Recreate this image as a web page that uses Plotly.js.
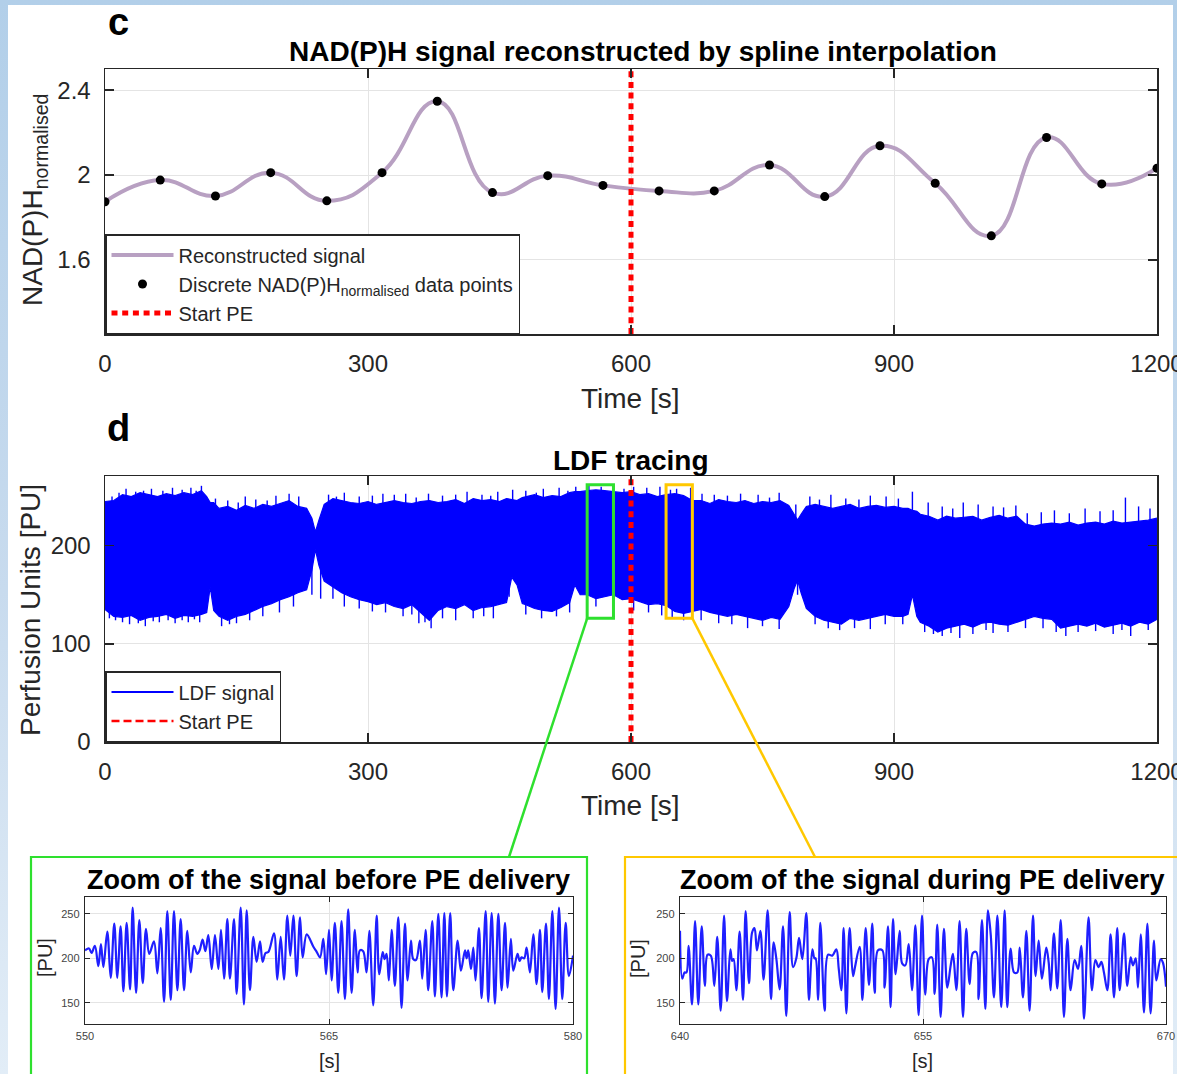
<!DOCTYPE html>
<html>
<head>
<meta charset="utf-8">
<script src="https://cdn.plot.ly/plotly-3.0.1.min.js"></script>
<style>
  html, body { margin: 0; padding: 0; }
  body { background: linear-gradient(to bottom, #b2cfe9 0%, #c8dbee 55%, #e2edf7 100%); }
  #fig { width: 1177px; height: 1074px; }
</style>
</head>
<body>
<div id="fig"></div>
<script>
// ---------------- data ----------------
// NAD(P)H normalised samples (one frame every ~63 s)
const nadT = [0, 63, 126, 189, 253, 316, 379, 442, 505, 568, 632, 695, 758, 821, 884, 947, 1011, 1074, 1137, 1200];
const nadV = [1.874, 1.976, 1.901, 2.011, 1.878, 2.011, 2.348, 1.917, 1.997, 1.951,
              1.925, 1.925, 2.047, 1.898, 2.138, 1.961, 1.713, 2.177, 1.958, 2.032];

const peStart = 600;             // start of PE delivery [s]

// LDF tracing: upper / lower envelope of the perfusion signal
const ldfT = [0,10,20,30,40,50,60,70,80,90,100,110,116,120,124,130,140,150,160,170,180,190,200,210,220,230,236,240,244,250,
              260,270,280,290,300,310,320,330,340,350,360,370,380,390,400,410,420,430,440,450,458,464,470,476,480,490,500,510,520,530,
              536,542,550,560,570,580,590,600,610,620,630,640,650,660,670,680,690,700,710,720,730,740,750,760,770,780,786,790,794,800,
              810,820,830,840,850,860,870,880,890,900,910,916,921,926,930,940,950,960,970,980,990,1000,1010,1020,1030,1040,1050,1060,1070,1080,
              1090,1100,1110,1120,1130,1140,1150,1160,1170,1180,1190,1200];
const ldfUpper = [245,246,252,250,254,252,250,253,251,254,252,256,250,244,244,238,240,236,241,238,242,240,243,246,240,238,228,214,226,242,
                  248,246,244,243,245,242,244,246,244,243,245,246,244,245,247,243,248,246,247,245,248,247,246,249,250,252,249,251,250,254,
                  255,255,256,257,256,255,254,255,252,253,250,252,253,251,246,246,243,247,245,244,246,243,245,244,246,241,232,226,232,240,
                  242,240,238,240,242,238,240,241,239,240,238,238,236,235,232,230,226,230,228,229,230,226,229,231,228,230,222,220,222,223,
                  222,224,221,223,224,222,225,223,224,225,226,228];
const ldfLower = [135,128,127,129,124,127,128,130,126,129,128,130,132,158,134,128,124,128,130,134,138,141,145,148,152,155,175,196,180,164,
                  158,152,148,145,143,140,142,138,136,140,132,124,134,138,136,140,134,137,138,140,142,168,160,141,140,136,134,133,137,142,
                  160,150,150,146,148,150,145,146,143,140,141,139,133,131,133,135,132,130,128,130,128,126,124,127,125,138,156,165,152,136,
                  128,124,122,120,126,124,126,128,130,128,128,130,150,128,122,118,112,116,118,120,117,121,122,120,119,122,125,128,126,125,
                  116,118,120,118,121,117,119,121,118,122,120,125];
// isolated peaks reaching beyond the envelope (upper edge, then lower edge)
const ldfSpikeT = [8,16,24,35,44,53,66,77,88,98,104,110,126,140,152,160,172,185,195,210,221,255,264,273,290,305,317,330,343,355,
                   369,385,400,413,430,440,448,465,480,492,500,518,528,537,552,566,580,592,603,618,633,645,652,668,681,695,710,725,745,758,
                   769,788,804,815,828,845,860,873,891,905,921,939,955,967,979,996,1013,1025,1039,1052,1068,1083,1100,1118,1135,1150,1164,1179,1192,
                   5,12,20,28,38,46,55,62,72,80,88,95,102,108,133,142,150,165,180,199,215,236,246,260,273,290,305,320,340,350,
                   358,365,372,385,400,420,432,443,461,480,498,515,530,560,580,603,620,635,647,660,680,700,715,733,750,769,790,810,825,838,
                   855,873,890,910,935,945,955,965,975,990,1005,1013,1030,1050,1070,1085,1096,1110,1130,1150,1160,1170,1190];
const ldfSpikeV = [250,254,258,255,256,258,256,259,257,259,256,261,248,246,244,250,247,246,251,253,250,252,250,254,250,251,253,252,253,249,
                   253,251,252,255,252,251,255,257,256,254,258,259,256,260,261,260,262,258,260,259,260,257,258,259,253,252,251,253,252,249,
                   254,242,250,247,252,248,247,251,250,248,255,244,240,238,244,242,240,239,241,233,234,236,233,238,235,236,249,240,238,
                   126,124,122,120,121,118,123,122,124,121,124,122,125,122,118,120,121,124,128,132,138,150,146,146,138,136,133,132,128,130,
                   121,122,116,126,124,126,128,126,148,130,126,128,132,138,140,134,132,129,126,124,124,121,120,116,118,115,150,120,116,114,
                   116,115,120,120,112,110,108,111,106,110,114,111,112,116,116,112,108,112,113,110,114,108,114];

// zoom windows on the LDF tracing
const zoomBox = [126, 262];      // PU extent of the highlight boxes

// 550-580 s, before PE delivery: successive turning points of the signal
const zoomBeforeT = [550.00,550.25,550.40,550.61,550.82,550.98,551.13,551.37,551.58,551.80,551.99,552.19,552.36,552.56,552.77,552.93,
  553.14,553.34,553.55,553.75,553.95,554.24,554.45,554.65,554.86,555.06,555.27,555.47,555.68,555.88,556.09,556.29,556.50,556.70,556.90,
  557.05,557.23,557.40,557.58,557.79,557.99,558.20,558.36,558.55,558.75,558.91,559.16,559.32,559.57,559.77,559.94,560.14,560.35,560.55,
  560.76,560.92,561.10,561.27,561.62,561.82,562.03,562.23,562.44,562.62,562.81,563.01,563.22,563.38,563.63,564.04,564.25,564.45,564.65,
  564.82,565.00,565.16,565.36,565.57,565.77,565.98,566.18,566.39,566.59,566.76,566.90,567.10,567.31,567.48,567.72,567.93,568.09,568.30,
  568.42,568.54,568.68,568.85,569.05,569.26,569.46,569.67,569.83,570.04,570.18,570.35,570.59,570.73,570.94,571.10,571.35,571.51,571.72,
  571.92,572.09,572.25,572.45,572.64,572.91,573.11,573.36,573.46,573.56,573.73,573.87,574.01,574.22,574.38,574.63,574.79,575.00,575.20,
  575.41,575.61,575.82,575.98,576.18,576.33,576.59,576.72,576.84,577.00,577.15,577.35,577.56,577.76,577.97,578.11,578.34,578.52,578.73,
  578.93,579.14,579.34,579.55,579.75,580.00];
const zoomBeforeV = [209,211,206,214,191,216,190,230,178,239,178,236,163,240,165,257,
  161,243,172,233,205,219,183,234,151,253,153,253,164,244,164,231,184,214,205,
  209,221,208,226,188,226,188,232,177,244,177,244,160,257,148,254,164,224,196,
  219,196,206,207,228,176,224,176,248,203,248,180,246,201,227,213,207,201,222,
  182,232,175,240,161,242,154,255,161,232,184,209,208,184,231,147,248,182,207,
  199,205,175,232,169,246,144,239,175,220,199,198,220,177,232,164,242,157,250,
  156,251,157,251,164,220,186,209,200,209,188,212,175,234,155,253,151,251,149,
  250,164,240,167,222,186,205,197,201,200,212,184,227,171,232,162,239,154,253,
  143,257,154,240,180,203];

// 640-670 s, during PE delivery
const zoomDuringT = [640.00,640.14,640.28,640.40,640.53,640.74,640.93,641.13,641.34,641.54,641.70,641.90,642.12,642.30,642.51,642.72,
  642.90,643.11,643.22,643.31,643.48,643.68,643.89,644.05,644.26,644.45,644.60,644.75,644.96,645.16,645.41,645.62,645.78,645.95,646.15,
  646.36,646.56,646.77,646.98,647.18,647.35,647.55,647.80,647.96,648.17,648.30,648.37,648.52,648.66,648.93,649.14,649.40,649.65,649.80,
  649.96,650.10,650.27,650.47,650.68,650.80,651.09,651.26,651.46,651.67,651.87,652.02,652.22,652.49,652.63,652.84,653.00,653.15,653.31,
  653.56,653.72,653.91,654.12,654.32,654.53,654.73,654.94,655.14,655.35,655.55,655.72,655.88,656.09,656.29,656.50,656.71,656.85,657.06,
  657.26,657.47,657.67,657.88,658.08,658.29,658.43,658.64,658.85,659.01,659.18,659.38,659.59,659.83,660.04,660.20,660.41,660.62,660.82,
  660.97,661.17,661.38,661.58,661.79,661.95,662.14,662.34,662.61,662.76,662.88,663.08,663.29,663.50,663.70,663.91,664.11,664.36,664.57,
  664.77,664.94,665.22,665.43,665.64,665.84,666.01,666.17,666.38,666.58,666.79,666.99,667.14,667.41,667.61,667.82,667.96,668.13,668.27,
  668.44,668.64,668.85,669.05,669.26,669.40,669.67,669.81,670.00];
const zoomDuringV = [231,177,184,184,214,148,242,148,236,169,204,203,169,224,141,248,
  152,210,197,199,164,230,153,253,172,229,234,209,231,176,254,154,218,199,165,
  236,135,252,190,200,223,199,251,153,210,200,200,153,240,141,204,203,210,188,
  164,234,138,234,180,190,213,153,234,170,239,161,209,209,167,236,145,244,182,
  231,194,192,216,164,237,136,248,159,199,201,160,238,134,233,167,192,205,164,
  242,134,233,171,206,207,154,243,143,254,227,156,248,145,254,145,211,184,184,
  212,156,231,141,248,180,220,177,212,195,164,228,166,243,134,222,164,198,188,
  214,132,246,164,198,190,196,184,164,227,156,234,164,228,169,201,192,200,167,
  227,139,239,138,220,175,199,195,168];

// ---------------- styling ----------------
const W = 1177, H = 1074;
const fx = v => v / W;            // pixel column -> paper fraction
const fy = v => 1 - v / H;        // pixel row    -> paper fraction
const FONT = 'Liberation Sans, Arial, Helvetica, sans-serif';
const INK = '#262626';
const GRID = '#e4e4e4';
const PURPLE = '#b8a0c2';
const GREEN = '#2ee02e';
const YELLOW = '#ffc800';
const BLUE = '#0000ff';
const RED = '#ff0000';

const nadRange = [1.25, 2.5];
const ldfRange = [0, 271];
const zoomRange = [126, 269];
const timeRange = [0, 1200];

const dom = {
  c:  {x: [fx(105), fx(1157)], y: [fy(334), fy(69)]},
  d:  {x: [fx(105), fx(1157)], y: [fy(742), fy(476)]},
  z1: {x: [fx(85),  fx(573)],  y: [fy(1024), fy(897)]},
  z2: {x: [fx(680), fx(1166)], y: [fy(1024), fy(897)]}
};

function ax(domain, range, tickvals, anchor, size, small) {
  return {
    domain: domain, range: range, tickvals: tickvals, anchor: anchor,
    autorange: false, fixedrange: true,
    showline: true, linecolor: INK, linewidth: small ? 1.2 : 1.5, mirror: 'allticks',
    ticks: 'inside', ticklen: small ? 5 : 9, tickwidth: small ? 1 : 1.5, tickcolor: INK,
    showgrid: true, gridcolor: GRID, gridwidth: 1, zeroline: false,
    tickfont: {family: FONT, size: size, color: small ? '#444' : INK},
    ticklabelstandoff: small ? 2 : 8,
    ticklabeloverflow: 'allow'
  };
}

// ---------------- traces ----------------
const traces = [];

traces.push({
  x: nadT, y: nadV, type: 'scatter', mode: 'lines', name: 'Reconstructed signal',
  line: {color: PURPLE, width: 4, shape: 'spline', smoothing: 1.3},
  xaxis: 'x', yaxis: 'y', legend: 'legend'
});
traces.push({
  x: nadT, y: nadV, type: 'scatter', mode: 'markers',
  name: 'Discrete NAD(P)H<sub>normalised</sub> data points',
  marker: {color: '#000', size: 9},
  xaxis: 'x', yaxis: 'y', legend: 'legend'
});
traces.push({
  x: [peStart, peStart], y: nadRange, type: 'scatter', mode: 'lines', name: 'Start PE',
  line: {color: RED, width: 5, dash: '6px,4.7px'},
  xaxis: 'x', yaxis: 'y', legend: 'legend'
});

// LDF band
traces.push({
  x: ldfT, y: ldfLower, type: 'scatter', mode: 'lines', showlegend: false,
  line: {color: BLUE, width: 1.2}, xaxis: 'x2', yaxis: 'y2', hoverinfo: 'skip'
});
traces.push({
  x: ldfT, y: ldfUpper, type: 'scatter', mode: 'lines', showlegend: false,
  fill: 'tonexty', fillcolor: BLUE,
  line: {color: BLUE, width: 1.2}, xaxis: 'x2', yaxis: 'y2', hoverinfo: 'skip'
});
const spikeX = [], spikeY = [];
ldfSpikeT.forEach((t, i) => { spikeX.push(t, t, null); spikeY.push(200, ldfSpikeV[i], null); });
traces.push({
  x: spikeX, y: spikeY, type: 'scatter', mode: 'lines', showlegend: false,
  line: {color: BLUE, width: 1.4}, xaxis: 'x2', yaxis: 'y2', hoverinfo: 'skip'
});
traces.push({
  x: [peStart, peStart], y: ldfRange, type: 'scatter', mode: 'lines', showlegend: false,
  line: {color: RED, width: 5, dash: '6px,4.7px'}, xaxis: 'x2', yaxis: 'y2'
});
// legend entries for the LDF panel
traces.push({
  x: [null], y: [null], type: 'scatter', mode: 'lines', name: 'LDF signal',
  line: {color: BLUE, width: 2}, xaxis: 'x2', yaxis: 'y2', legend: 'legend2'
});
traces.push({
  x: [null], y: [null], type: 'scatter', mode: 'lines', name: 'Start PE',
  line: {color: RED, width: 2.5, dash: '8px,4px'}, xaxis: 'x2', yaxis: 'y2', legend: 'legend2'
});

// zoomed excerpts
traces.push({
  x: zoomBeforeT, y: zoomBeforeV, type: 'scatter', mode: 'lines', showlegend: false,
  line: {color: '#1f1fff', width: 2.2, shape: 'spline', smoothing: 1}, xaxis: 'x3', yaxis: 'y3'
});
traces.push({
  x: zoomDuringT, y: zoomDuringV, type: 'scatter', mode: 'lines', showlegend: false,
  line: {color: '#1f1fff', width: 2.2, shape: 'spline', smoothing: 1}, xaxis: 'x4', yaxis: 'y4'
});

// ---------------- shapes ----------------
function paperX(d, t) { const a = d.x; return a[0] + (t - timeRange[0]) / (timeRange[1] - timeRange[0]) * (a[1] - a[0]); }
function paperY(d, v) { const a = d.y; return a[0] + (v - ldfRange[0]) / (ldfRange[1] - ldfRange[0]) * (a[1] - a[0]); }

const z1a = zoomBeforeT[0], z1b = zoomBeforeT[zoomBeforeT.length - 1];
const z2a = zoomDuringT[0], z2b = zoomDuringT[zoomDuringT.length - 1];

const shapes = [
  {type: 'rect', xref: 'paper', yref: 'paper', x0: fx(8), x1: fx(1173), y0: -0.02, y1: fy(5),
   fillcolor: '#ffffff', line: {width: 0}, layer: 'below'},
  {type: 'rect', xref: 'x2', yref: 'y2', x0: z1a, x1: z1b, y0: zoomBox[0], y1: zoomBox[1],
   line: {color: GREEN, width: 3}},
  {type: 'rect', xref: 'x2', yref: 'y2', x0: z2a, x1: z2b, y0: zoomBox[0], y1: zoomBox[1],
   line: {color: YELLOW, width: 3}},
  {type: 'line', xref: 'paper', yref: 'paper',
   x0: paperX(dom.d, z1a), y0: paperY(dom.d, zoomBox[0]), x1: fx(509), y1: fy(857),
   line: {color: GREEN, width: 2.5}},
  {type: 'line', xref: 'paper', yref: 'paper',
   x0: paperX(dom.d, z2b), y0: paperY(dom.d, zoomBox[0]), x1: fx(815), y1: fy(857),
   line: {color: YELLOW, width: 2.5}},
  {type: 'rect', xref: 'paper', yref: 'paper', x0: fx(31), x1: fx(587), y0: -0.05, y1: fy(857),
   line: {color: GREEN, width: 2.2}},
  {type: 'rect', xref: 'paper', yref: 'paper', x0: fx(625), x1: fx(1180), y0: -0.05, y1: fy(857),
   line: {color: YELLOW, width: 2.2}}
];

// ---------------- text ----------------
function note(text, x, y, size, extra) {
  return Object.assign({
    text: text, x: fx(x), y: fy(y), xref: 'paper', yref: 'paper',
    xanchor: 'center', yanchor: 'middle', showarrow: false,
    font: {family: FONT, size: size, color: '#000'}
  }, extra || {});
}
const inkFont = s => ({font: {family: FONT, size: s, color: INK}});

const annotations = [
  note('<b>c</b>', 118, 22, 38),
  note('<b>NAD(P)H signal reconstructed by spline interpolation</b>', 643, 52, 28),
  note('Time [s]', 630, 398, 28, inkFont(28)),
  note('NAD(P)H<sub>normalised</sub>', 34, 200, 28, Object.assign({textangle: -90}, inkFont(28))),
  note('<b>d</b>', 118, 428, 38),
  note('<b>LDF tracing</b>', 631, 460, 28),
  note('Time [s]', 630, 805, 28, inkFont(28)),
  note('Perfusion Units [PU]', 30, 610, 28, Object.assign({textangle: -90}, inkFont(28))),
  note('<b>Zoom of the signal before PE delivery</b>', 328, 880, 27),
  note('<b>Zoom of the signal during PE delivery</b>', 922, 880, 27),
  note('[PU]', 45, 958, 20, Object.assign({textangle: -90}, inkFont(20))),
  note('[PU]', 638, 958, 20, Object.assign({textangle: -90}, inkFont(20))),
  note('[s]', 330, 1061, 20, inkFont(20)),
  note('[s]', 922, 1061, 20, inkFont(20))
];

const legendBase = {
  xref: 'paper', yref: 'paper', xanchor: 'left', yanchor: 'bottom',
  bgcolor: '#ffffff', bordercolor: INK, borderwidth: 1.5, traceorder: 'normal',
  font: {family: FONT, size: 20, color: INK}, itemwidth: 62, tracegroupgap: 0
};

const layout = {
  width: W, height: H,
  margin: {l: 0, r: 0, t: 0, b: 0, pad: 0},
  paper_bgcolor: 'rgba(0,0,0,0)', plot_bgcolor: '#ffffff',
  showlegend: true,
  legend: Object.assign({}, legendBase, {x: fx(105), y: fy(334)}),
  legend2: Object.assign({}, legendBase, {x: fx(105), y: fy(742)}),
  xaxis:  ax(dom.c.x, timeRange, [0, 300, 600, 900, 1200], 'y', 24),
  yaxis:  Object.assign(ax(dom.c.y, nadRange, [1.6, 2, 2.4], 'x', 24), {ticktext: ['1.6', '2', '2.4']}),
  xaxis2: ax(dom.d.x, timeRange, [0, 300, 600, 900, 1200], 'y2', 24),
  yaxis2: ax(dom.d.y, ldfRange, [0, 100, 200], 'x2', 24),
  xaxis3: ax(dom.z1.x, [550, 580], [550, 565, 580], 'y3', 11, true),
  yaxis3: ax(dom.z1.y, zoomRange, [150, 200, 250], 'x3', 11, true),
  xaxis4: ax(dom.z2.x, [640, 670], [640, 655, 670], 'y4', 11, true),
  yaxis4: ax(dom.z2.y, zoomRange, [150, 200, 250], 'x4', 11, true),
  shapes: shapes,
  annotations: annotations
};

Plotly.newPlot('fig', traces, layout, {displayModeBar: false, staticPlot: true});
</script>
</body>
</html>
